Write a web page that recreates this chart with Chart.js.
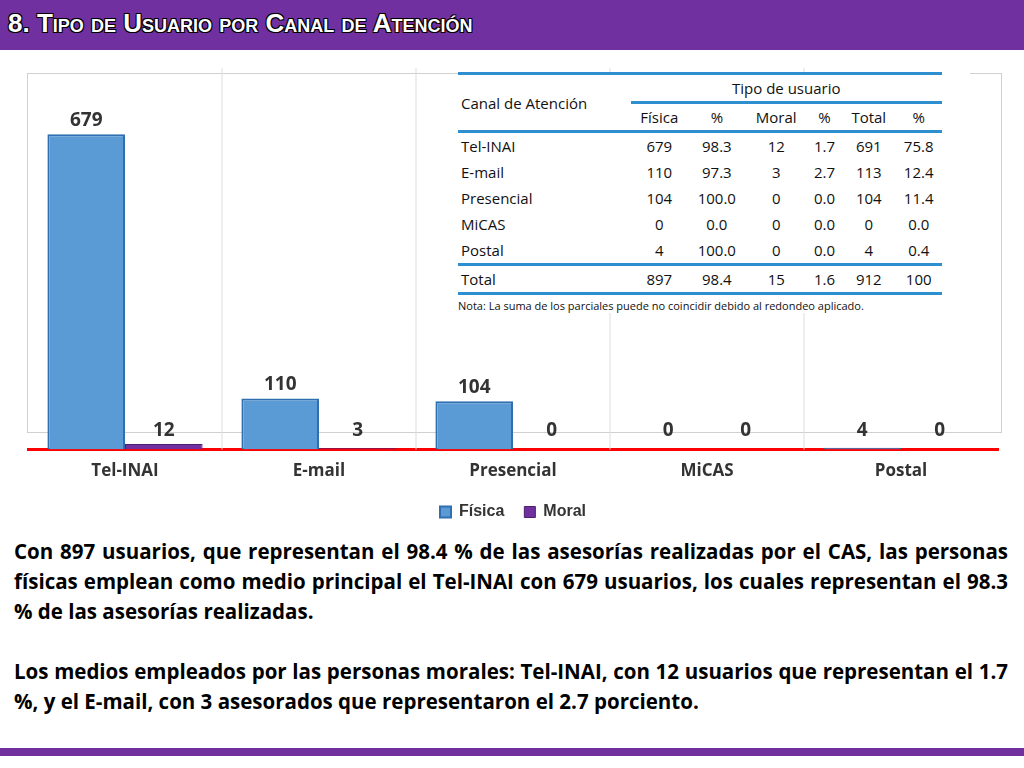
<!DOCTYPE html>
<html><head><meta charset="utf-8">
<script src="https://cdn.jsdelivr.net/npm/chart.js@4/dist/chart.umd.min.js"></script>
<style>
body{margin:0;width:1024px;height:768px;background:#fff;font-family:"Open Sans",Calibri,Arial,sans-serif;position:relative;overflow:hidden}
#hdr{position:absolute;left:0;top:0;width:1024px;height:50px;background:#7030a0}
#hdr span{position:absolute;left:8px;top:8px;font:bold 26px "Liberation Sans",Arial;color:#fff;font-variant:small-caps;text-shadow:1px 1px 0 #000,-1px -1px 0 #000,1px -1px 0 #000,-1px 1px 0 #000}
#box{position:absolute;left:27px;top:73px;width:973px;height:358px;border:1px solid #d0d0d0}
#cw{position:absolute;left:0;top:60px;width:1024px;height:470px}
#tbl{position:absolute;left:458px;top:72px;width:512px;font-size:15px;background:#fff;color:#111}
#tbl table{border-collapse:collapse;width:484px}
#tbl td{padding:0 3px;height:26px;text-align:center}
#tbl td.l{text-align:left}
.bt{border-top:3px solid #2e8fd0}
.bb{border-bottom:3px solid #2e8fd0}
#nota{font-size:11px;margin-top:3px}
#txt{position:absolute;left:14px;top:536px;width:994px;font-size:20.5px;font-weight:bold;text-align:justify;line-height:30px}
#txt p{margin:0 0 30px 0}
#ftr{position:absolute;left:0;top:748px;width:1024px;height:8px;background:#7030a0}
</style></head><body>
<div id="hdr"><span>8. Tipo de Usuario por Canal de Atención</span></div>
<div id="box"></div>
<div id="cw"><canvas id="c" width="1024" height="470"></canvas></div>
<div id="tbl"><table>
<tr class="bt"><td class="l" rowspan="2" style="vertical-align:middle">Canal de Atención</td><td colspan="6" style="border-bottom:3px solid #2e8fd0">Tipo de usuario</td></tr>
<tr class="bb"><td>Física</td><td>%</td><td>Moral</td><td>%</td><td>Total</td><td>%</td></tr>
<tr><td class="l">Tel-INAI</td><td>679</td><td>98.3</td><td>12</td><td>1.7</td><td>691</td><td>75.8</td></tr>
<tr><td class="l">E-mail</td><td>110</td><td>97.3</td><td>3</td><td>2.7</td><td>113</td><td>12.4</td></tr>
<tr><td class="l">Presencial</td><td>104</td><td>100.0</td><td>0</td><td>0.0</td><td>104</td><td>11.4</td></tr>
<tr><td class="l">MiCAS</td><td>0</td><td>0.0</td><td>0</td><td>0.0</td><td>0</td><td>0.0</td></tr>
<tr class="bb"><td class="l">Postal</td><td>4</td><td>100.0</td><td>0</td><td>0.0</td><td>4</td><td>0.4</td></tr>
<tr class="bb"><td class="l">Total</td><td>897</td><td>98.4</td><td>15</td><td>1.6</td><td>912</td><td>100</td></tr>
</table><div id="nota">Nota: La suma de los parciales puede no coincidir debido al redondeo aplicado.</div></div>
<div id="txt"><p>Con 897 usuarios, que representan el 98.4 % de las asesorías realizadas por el CAS, las personas físicas emplean como medio principal el Tel-INAI con 679 usuarios, los cuales representan el 98.3 % de las asesorías realizadas.</p><p>Los medios empleados por las personas morales: Tel-INAI, con 12 usuarios que representan el 1.7 %, y el E-mail, con 3 asesorados que representaron el 2.7 porciento.</p></div>
<div id="ftr"></div>
<script>
const categories=["Tel-INAI","E-mail","Presencial","MiCAS","Postal"];
const fisica=[679,110,104,0,4];
const moral=[12,3,0,0,0];
const seriesNames=["Física","Moral"];
const labelsPlugin={id:'lbl',afterDatasetsDraw(ch){const ctx=ch.ctx;ctx.save();ctx.font='bold 19px "Open Sans",Calibri,sans-serif';ctx.fillStyle='#333';ctx.textAlign='center';ctx.textBaseline='bottom';
ch.data.datasets.forEach((d,i)=>{ch.getDatasetMeta(i).data.forEach((b,j)=>{const v=d.data[j];const y=Math.min(b.y,ch.scales.y.getPixelForValue(0)-10);ctx.fillText(v,b.x,y-(v>20?4:0));});});ctx.restore();}};
const sepPlugin={id:'sep',beforeDatasetsDraw(ch){const ctx=ch.ctx,x=ch.scales.x,a=ch.chartArea;ctx.save();ctx.strokeStyle='#ddd';ctx.lineWidth=1;for(let i=1;i<categories.length;i++){const px=(x.getPixelForValue(i-1)+x.getPixelForValue(i))/2;ctx.beginPath();ctx.moveTo(px,a.top-10);ctx.lineTo(px,a.bottom);ctx.stroke();}ctx.restore();}};
new Chart(document.getElementById('c'),{type:'bar',
data:{labels:categories,datasets:[
{label:seriesNames[0],data:fisica,backgroundColor:'#5b9bd5',borderColor:'#2f6fb0',borderWidth:2},
{label:seriesNames[1],data:moral,backgroundColor:'#7030a0',borderColor:'#4b1f70',borderWidth:1}]},
options:{responsive:false,animation:false,devicePixelRatio:1,
layout:{padding:{left:28,right:26,top:18}},
datasets:{bar:{categoryPercentage:0.8,barPercentage:1}},
scales:{y:{display:false,min:0,max:800},
x:{grid:{display:false},border:{color:'#ff0000',width:3},ticks:{color:'#333',font:{size:17,weight:'bold',family:'"Open Sans",Calibri,sans-serif'}}}},
plugins:{legend:{position:'bottom',labels:{boxWidth:11,boxHeight:11,padding:20,color:'#333',font:{size:16,weight:'bold'}}},tooltip:{enabled:false}}},
plugins:[labelsPlugin,sepPlugin]});
</script>
</body></html>
